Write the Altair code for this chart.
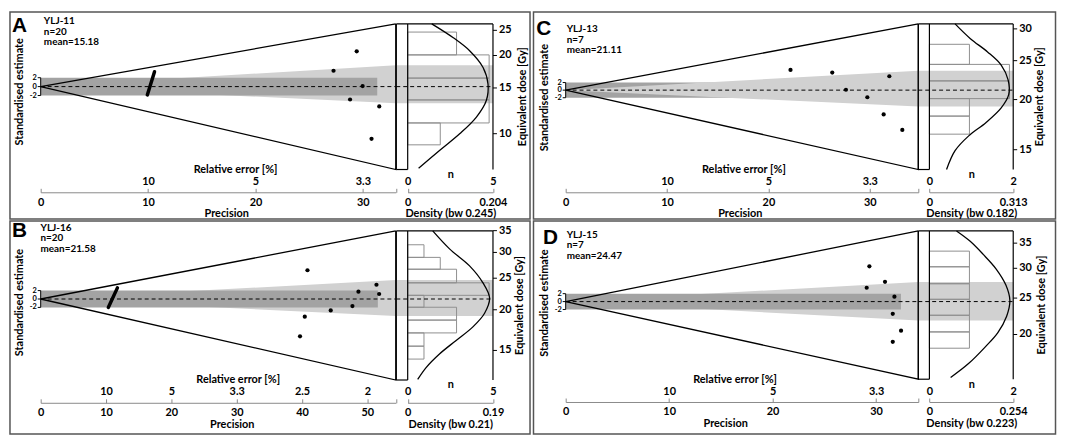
import math
import altair as alt
import pandas as pd

# ---------------- values ----------------
# Panel A : YLJ-11
A_sample, A_n, A_mean = "YLJ-11", 20, 15.18
A_precision_max = 33.07
A_z_domain = [-18.6, 14.07]
A_dose_domain = [7.28, 26.47]
A_dose_ticks = [10, 15, 20, 25]
A_precision_ticks = [0, 10, 20, 30]
A_relerr_labels = ["10", "5", "3.3"]
A_point_precision = [29.43, 27.27, 29.98, 28.81, 31.53, 30.81]
A_point_z = [7.91, 3.56, 0.13, -2.89, -4.44, -11.71]
A_bar_end = 31.34
A_band_dose = [13.1, 18.36]
A_marker = [9.93, -1.87, 10.6, 3.33]
A_hist_edges = [24.62, 20.11, 16.37, 13.49, 11.0, 9.06]
A_hist_counts = [3, 5, 5, 5, 2]
A_n_labels = ["0", "5"]
A_n_max = 5
A_density_max = 0.204
A_density_labels = ["0", "0.204"]
A_bw = "0.245"
A_kde_dose = [26.48, 23.41, 20.83, 17.99, 15.53, 13.42, 11.59, 10.01, 8.65, 7.36]
A_kde_density = [0.0576, 0.1091, 0.1487, 0.1803, 0.1921, 0.1881, 0.1644, 0.125, 0.0776, 0.0261]

# Panel B : YLJ-16
B_sample, B_n, B_mean = "YLJ-16", 20, 21.58
B_precision_max = 54.35
B_z_domain = [-19.24, 16.17]
B_dose_domain = [12.17, 34.93]
B_dose_ticks = [15, 20, 25, 30, 35]
B_precision_ticks = [0, 10, 20, 30, 40, 50]
B_relerr_labels = ["10", "5", "3.3", "2.5", "2"]
B_point_precision = [40.83, 51.39, 48.63, 51.80, 44.39, 47.71, 40.42, 39.69]
B_point_z = [6.83, 3.38, 1.74, 1.19, -2.71, -1.69, -4.19, -8.86]
B_bar_end = 51.6
B_band_dose = [19.14, 24.67]
B_marker = [10.35, -2.02, 11.74, 2.64]
B_hist_edges = [31.67, 28.97, 26.64, 24.20, 22.15, 20.36, 18.59, 16.98, 15.46, 14.11]
B_hist_counts = [1, 2, 3, 5, 1, 3, 3, 1, 1]
B_n_labels = ["0", "5"]
B_n_max = 5
B_density_max = 0.19
B_density_labels = ["0", "0.19"]
B_bw = "0.21"
B_kde_dose = [34.93, 30.77, 27.29, 24.20, 21.73, 19.51, 17.72, 16.10, 14.63, 13.29, 12.22]
B_kde_density = [0.0558, 0.0932, 0.1378, 0.1677, 0.1825, 0.1713, 0.1453, 0.108, 0.0708, 0.041, 0.0223]

# Panel C : YLJ-13
C_sample, C_n, C_mean = "YLJ-13", 7, 21.11
C_precision_max = 34.79
C_z_domain = [-20.92, 17.46]
C_dose_domain = [13.39, 30.87]
C_dose_ticks = [15, 20, 25, 30]
C_precision_ticks = [0, 10, 20, 30]
C_relerr_labels = ["10", "5", "3.3"]
C_point_precision = [22.18, 26.30, 27.65, 31.93, 29.76, 31.37, 33.21]
C_point_z = [5.32, 4.63, 0.10, 3.66, -1.88, -6.41, -10.48]
C_bar_end = 33.5
C_band_dose = [19.21, 23.61]
C_marker = None
C_hist_edges = [27.46, 24.47, 22.26, 20.11, 18.19, 16.40]
C_hist_counts = [1, 2, 2, 1, 1]
C_n_labels = ["0", "2"]
C_n_max = 2
C_density_max = 0.313
C_density_labels = ["0", "0.313"]
C_bw = "0.182"
C_kde_dose = [30.87, 28.36, 26.29, 24.38, 22.39, 20.57, 19.07, 17.52, 16.24, 14.92, 13.39]
C_kde_density = [0.0958, 0.1531, 0.2172, 0.2681, 0.2939, 0.2961, 0.2681, 0.2108, 0.1468, 0.0958, 0.064]

# Panel D : YLJ-15
D_sample, D_n, D_mean = "YLJ-15", 7, 24.47
D_precision_max = 34.08
D_z_domain = [-19.6, 17.85]
D_dose_domain = [15.21, 37.72]
D_dose_ticks = [20, 25, 30, 35]
D_precision_ticks = [0, 10, 20, 30]
D_relerr_labels = ["10", "5", "3.3"]
D_point_precision = [29.35, 30.86, 29.09, 31.77, 31.61, 32.41, 31.61]
D_point_z = [8.9, 5.0, 3.5, 1.25, -3.08, -7.33, -10.17]
D_bar_end = 32.4
D_band_dose = [21.79, 27.58]
D_marker = None
D_hist_edges = [33.33, 30.28, 27.30, 24.81, 22.50, 20.32, 18.39]
D_hist_counts = [1, 1, 1, 1, 1, 1]
D_n_labels = ["0", "2"]
D_n_max = 2
D_density_max = 0.254
D_density_labels = ["0", "0.254"]
D_bw = "0.223"
D_kde_dose = [37.7, 35.39, 32.67, 29.87, 27.03, 24.62, 22.37, 20.24, 18.49, 16.74, 15.37]
D_kde_density = [0.0821, 0.1236, 0.163, 0.2024, 0.2321, 0.2439, 0.2341, 0.2075, 0.168, 0.1186, 0.0643]

Z_TICKS = [-2, 0, 2]

# ---------------- styling / layout ----------------
FONT = "Lato"
LIGHT = "#d1d1d1"
DARK = "#a3a3a3"
AXIS_GREY = "#8a8a8a"
HIST_GREY = "#8f8f8f"
FRAME = "#555555"
AXIS_GAP = 23
HIST_FRAC = 0.955
ROW_SPACING = 62

STYLE = {
    "A": dict(wr=358.5, wk=97.6, gap=11.5, extra=73.4, h=147, frame=(-31, 494, -12, 197), letter=(-29, 8.5),
              tx=3.2, ty=(0.3, 10.8, 21.3), relerr_dx=17, prec_dx=8, bar_on_top=True, ytitle_dy=-5, dtitle_dx=30),
    "C": dict(wr=356.0, wk=95.8, gap=11.2, extra=0, h=147, frame=(-32.5, 494.5, -12, 197), letter=(-29.7, 11.3),
              tx=1.0, ty=(8.3, 18.8, 29.4), relerr_dx=1.4, prec_dx=-2.2, bar_on_top=False, ytitle_dy=1, dtitle_dx=27),
    "B": dict(wr=358.5, wk=97.6, gap=11.5, extra=73.4, h=150.5, frame=(-31, 494, -10, 205), letter=(-29, 6.3),
              tx=-0.2, ty=(-0.1, 10.4, 20.9), relerr_dx=19.6, prec_dx=13.6, bar_on_top=True, ytitle_dy=-3, dtitle_dx=27),
    "D": dict(wr=356.0, wk=95.8, gap=11.2, extra=0, h=149.7, frame=(-32.5, 494.5, -10, 205), letter=(-22.9, 13.0),
              tx=1.0, ty=(6.9, 17.4, 27.9), relerr_dx=-7.5, prec_dx=-17, bar_on_top=True, ytitle_dy=-2, dtitle_dx=29),
}

TXT = dict(font=FONT, fontWeight="bold", color="black")


def panel_data(k):
    g = globals()
    return dict(
        letter=k, sample=g[k + "_sample"], n=g[k + "_n"], mean=g[k + "_mean"],
        xmax=g[k + "_precision_max"], zdom=g[k + "_z_domain"], dose_dom=g[k + "_dose_domain"],
        dose_ticks=g[k + "_dose_ticks"], pticks=g[k + "_precision_ticks"], relerr=g[k + "_relerr_labels"],
        pp=g[k + "_point_precision"], pz=g[k + "_point_z"], bar_end=g[k + "_bar_end"],
        band=g[k + "_band_dose"], marker=g[k + "_marker"], edges=g[k + "_hist_edges"],
        counts=g[k + "_hist_counts"], nlab=g[k + "_n_labels"], nmax=g[k + "_n_max"],
        dmax=g[k + "_density_max"], dlab=g[k + "_density_labels"], bw=g[k + "_bw"],
        kde_dose=g[k + "_kde_dose"], kde_dens=g[k + "_kde_density"],
    )


def one_row():
    return pd.DataFrame({"k": [0]})


def relerr_expr(ticks, labels):
    expr = "''"
    for t, lab in reversed(list(zip(ticks, labels))):
        expr = f"datum.value == {t} ? '{lab}' : {expr}"
    return expr


def radial_chart(d, s):
    W, H = s["wr"], s["h"]
    xmax = d["xmax"]
    zb, zt = d["zdom"]
    xs = alt.Scale(domain=[0, xmax], nice=False, zero=False)
    ys = alt.Scale(domain=[zb, zt], nice=False, zero=False)
    lb, lt = math.log(d["dose_dom"][0]), math.log(d["dose_dom"][1])

    def z_edge(dose):
        return zb + (math.log(dose) - lb) / (lt - lb) * (zt - zb)

    wedge = alt.Chart(pd.DataFrame({"p": [0, xmax], "hi": [0, z_edge(d["band"][1])],
                                    "lo": [0, z_edge(d["band"][0])]})).mark_area(color=LIGHT, opacity=1).encode(
        x=alt.X("p:Q", scale=xs, axis=None), y=alt.Y("hi:Q", scale=ys, axis=None), y2="lo:Q")
    bar = alt.Chart(pd.DataFrame({"p0": [0], "p1": [d["bar_end"]], "z0": [Z_TICKS[0]], "z1": [Z_TICKS[-1]]})).mark_rect(
        color=DARK, opacity=1).encode(
        x=alt.X("p0:Q", scale=xs, axis=None), x2="p1:Q", y=alt.Y("z0:Q", scale=ys, axis=None), y2="z1:Q")
    dashed = alt.Chart(pd.DataFrame({"p0": [0], "p1": [xmax], "z": [0]})).mark_rule(
        color="black", strokeDash=[4, 3], strokeWidth=1).encode(
        x=alt.X("p0:Q", scale=xs, axis=None), x2="p1:Q", y=alt.Y("z:Q", scale=ys, axis=None))
    relerr_ticks = d["pticks"][1:]
    outline = alt.Chart(pd.DataFrame({"p": [xmax, 0, xmax, xmax], "z": [zt, 0, zb, zt], "o": [0, 1, 2, 3]})).mark_line(
        color="black", strokeWidth=1.3).encode(
        x=alt.X("p:Q", scale=xs, axis=alt.Axis(
            orient="top", offset=-(H + AXIS_GAP), values=[0] + relerr_ticks + [xmax],
            labelExpr=relerr_expr(relerr_ticks, d["relerr"]), tickSize=4, tickColor=AXIS_GREY,
            domainColor=AXIS_GREY, labelPadding=2, title="Relative error [%]",
            titleX=W / 2 + s["relerr_dx"], titleY=-20, titleBaseline="alphabetic")),
        y=alt.Y("z:Q", scale=ys, axis=None), order="o:Q")
    pts = alt.Chart(pd.DataFrame({"P": d["pp"], "z": d["pz"]})).mark_circle(size=18, color="black", opacity=1).encode(
        x=alt.X("P:Q", scale=xs, axis=alt.Axis(
            orient="bottom", offset=AXIS_GAP, values=d["pticks"], labelExpr="datum.value + ''",
            domain=False, ticks=False, labelPadding=4, title="Precision",
            titleX=W / 2 + s["prec_dx"], titleY=24.5, titleBaseline="alphabetic")),
        y=alt.Y("z:Q", scale=ys, axis=None))

    # standardised-estimate axis (short bracket from -2 to 2)
    zt_df = pd.DataFrame({"z": Z_TICKS, "lab": [str(v) for v in Z_TICKS]})
    bracket = alt.Chart(pd.DataFrame({"p": [0], "z0": [Z_TICKS[0]], "z1": [Z_TICKS[-1]]})).mark_rule(
        color="black", strokeWidth=1).encode(
        x=alt.X("p:Q", scale=xs, axis=None), y=alt.Y("z0:Q", scale=ys, axis=None), y2="z1:Q")
    zticks = alt.Chart(zt_df).mark_rule(color="black", strokeWidth=1).encode(
        x=alt.value(-3), x2=alt.value(0), y=alt.Y("z:Q", scale=ys, axis=None))
    zlabels = alt.Chart(zt_df).mark_text(align="right", baseline="middle", fontSize=7.5, **TXT).encode(
        x=alt.value(-4), y=alt.Y("z:Q", scale=ys, axis=None), text="lab:N")
    ztitle = alt.Chart(one_row()).mark_text(angle=270, align="center", baseline="middle", fontSize=11, **TXT).encode(
        x=alt.value(-21), y=alt.value(H / 2 + s["ytitle_dy"]), text=alt.value("Standardised estimate"))

    layers = [wedge, bar] if s["bar_on_top"] else [bar, wedge]
    layers += [dashed, outline]
    if d["marker"]:
        m = d["marker"]
        layers.append(alt.Chart(pd.DataFrame({"p0": [m[0]], "z0": [m[1]], "p1": [m[2]], "z1": [m[3]]})).mark_rule(
            color="black", strokeWidth=3.5, strokeCap="round").encode(
            x=alt.X("p0:Q", scale=xs, axis=None), y=alt.Y("z0:Q", scale=ys, axis=None), x2="p1:Q", y2="z1:Q"))
    layers += [bracket, zticks, zlabels, ztitle, pts]
    fx0, fx1, fy0, fy1 = s["frame"]
    layers.append(alt.Chart(one_row()).mark_rect(fillOpacity=0, stroke=FRAME, strokeWidth=1.5).encode(
        x=alt.value(fx0), x2=alt.value(fx1), y=alt.value(fy0), y2=alt.value(fy1)))
    layers.append(alt.Chart(one_row()).mark_text(
        font="Liberation Sans", fontSize=21, fontWeight="bold", align="left", baseline="alphabetic",
        color="black").encode(x=alt.value(s["letter"][0]), y=alt.value(s["letter"][1]), text=alt.value(d["letter"])))
    for txt, ty in zip([d["sample"], f"n={d['n']}", f"mean={d['mean']:.2f}"], s["ty"]):
        layers.append(alt.Chart(one_row()).mark_text(
            fontSize=10, align="left", baseline="alphabetic", **TXT).encode(
            x=alt.value(s["tx"]), y=alt.value(ty), text=alt.value(txt)))
    return alt.layer(*layers).properties(width=W, height=H).resolve_axis(x="independent")


def kde_chart(d, s):
    Wk, H, g, E = s["wk"], s["h"], s["gap"], s["extra"]
    dmax = d["dmax"]
    unit = dmax / (Wk - g)
    gd, ed = g * unit, E * unit
    xs = alt.Scale(domain=[-gd, dmax + ed], nice=False, zero=False)
    ys = alt.Scale(type="log", domain=d["dose_dom"], nice=False)
    band = alt.Chart(pd.DataFrame({"x0": [-gd], "x1": [dmax], "lo": [d["band"][0]], "hi": [d["band"][1]]})).mark_rect(
        color=LIGHT, opacity=1).encode(
        x=alt.X("x0:Q", scale=xs, axis=None), x2="x1:Q", y=alt.Y("lo:Q", scale=ys, axis=None), y2="hi:Q")
    edges, counts = d["edges"], d["counts"]
    hist_df = pd.DataFrame({"x0": [0.0] * len(counts),
                            "x1": [c / d["nmax"] * dmax * HIST_FRAC for c in counts],
                            "hi": edges[:-1], "lo": edges[1:]})
    hist = alt.Chart(hist_df).mark_rect(fillOpacity=0, stroke=HIST_GREY, strokeWidth=1).encode(
        x=alt.X("x0:Q", scale=xs, axis=alt.Axis(
            orient="top", offset=-(H + AXIS_GAP), values=[0, dmax],
            labelExpr=f"datum.value == 0 ? '{d['nlab'][0]}' : '{d['nlab'][1]}'", tickSize=4,
            tickColor=AXIS_GREY, domainColor=AXIS_GREY, domainDash=[0, g, Wk - g, E + 1], labelPadding=2,
            title="n", titleX=g + (Wk - g) / 2, titleY=-15, titleBaseline="alphabetic")),
        x2="x1:Q", y=alt.Y("hi:Q", scale=ys, axis=None), y2="lo:Q")
    mean_rule = alt.Chart(pd.DataFrame({"x0": [-gd], "x1": [dmax], "y": [d["mean"]]})).mark_rule(
        color="black", strokeDash=[4, 3], strokeWidth=1).encode(
        x=alt.X("x0:Q", scale=xs, axis=None), x2="x1:Q", y=alt.Y("y:Q", scale=ys, axis=None))
    kde = alt.Chart(pd.DataFrame({"dens": d["kde_dens"], "dose": d["kde_dose"],
                                  "i": list(range(len(d["kde_dose"])))})).mark_line(
        color="black", strokeWidth=1.3, interpolate="catmull-rom").encode(
        x=alt.X("dens:Q", scale=xs, axis=alt.Axis(
            orient="bottom", offset=AXIS_GAP, values=[0, dmax],
            labelExpr=f"datum.value == 0 ? '{d['dlab'][0]}' : '{d['dlab'][1]}'", domain=False, ticks=False,
            labelPadding=4, title=f"Density (bw {d['bw']})", titleX=g + (Wk - g) / 2, titleY=24.5,
            titleBaseline="alphabetic")),
        y=alt.Y("dose:Q", scale=ys, axis=None),
        order="i:Q")
    top_rule = alt.Chart(pd.DataFrame({"x0": [-gd], "x1": [dmax], "y": [d["dose_dom"][1]]})).mark_rule(
        color="black", strokeWidth=1.2).encode(
        x=alt.X("x0:Q", scale=xs, axis=None), x2="x1:Q", y=alt.Y("y:Q", scale=ys, axis=None))
    zero_rule = alt.Chart(pd.DataFrame({"x": [0.0]})).mark_rule(color="black", strokeWidth=1.2).encode(
        x=alt.X("x:Q", scale=xs, axis=None))
    left_rule = alt.Chart(pd.DataFrame({"x": [-gd]})).mark_rule(color="black", strokeWidth=1.2).encode(
        x=alt.X("x:Q", scale=xs, axis=None))
    right_rule = alt.Chart(pd.DataFrame({"x": [dmax]})).mark_rule(color="black", strokeWidth=1.2).encode(
        x=alt.X("x:Q", scale=xs, axis=None))
    bottom_rule = alt.Chart(pd.DataFrame({"x0": [-gd], "x1": [0.0], "y": [d["dose_dom"][0]]})).mark_rule(
        color="black", strokeWidth=1.2).encode(
        x=alt.X("x0:Q", scale=xs, axis=None), x2="x1:Q", y=alt.Y("y:Q", scale=ys, axis=None))
    # equivalent-dose axis on the right edge of the density panel
    dt_df = pd.DataFrame({"y": d["dose_ticks"], "lab": [str(v) for v in d["dose_ticks"]]})
    dticks = alt.Chart(dt_df).mark_rule(color="black", strokeWidth=1).encode(
        x=alt.value(Wk), x2=alt.value(Wk + 4), y=alt.Y("y:Q", scale=ys, axis=None))
    dlabels = alt.Chart(dt_df).mark_text(align="left", baseline="middle", fontSize=11, **TXT).encode(
        x=alt.value(Wk + 6), y=alt.Y("y:Q", scale=ys, axis=None), text="lab:N")
    dtitle = alt.Chart(one_row()).mark_text(angle=270, align="center", baseline="middle", fontSize=11, **TXT).encode(
        x=alt.value(Wk + s["dtitle_dx"]), y=alt.value(H / 2), text=alt.value("Equivalent dose [Gy]"))
    return alt.layer(band, hist, mean_rule, kde, top_rule, zero_rule, left_rule, right_rule, bottom_rule,
                     dticks, dlabels, dtitle).properties(width=Wk + E, height=H).resolve_axis(x="independent")


charts = []
for key in ["A", "C", "B", "D"]:
    dd, ss = panel_data(key), STYLE[key]
    charts += [radial_chart(dd, ss), kde_chart(dd, ss)]

chart = alt.concat(*charts, columns=4, spacing={"row": ROW_SPACING, "column": 0}, bounds="flush").properties(
    padding=0).configure(font=FONT).configure_view(stroke="transparent").configure_axis(
    grid=False, labelFont=FONT, titleFont=FONT, labelFontWeight="bold", titleFontWeight="bold",
    labelFontSize=11, titleFontSize=11, labelColor="black", titleColor="black",
    labelOverlap=False, labelFlush=False, zindex=1)

chart.save("out.html", embed_options={"renderer": "svg", "actions": False})
